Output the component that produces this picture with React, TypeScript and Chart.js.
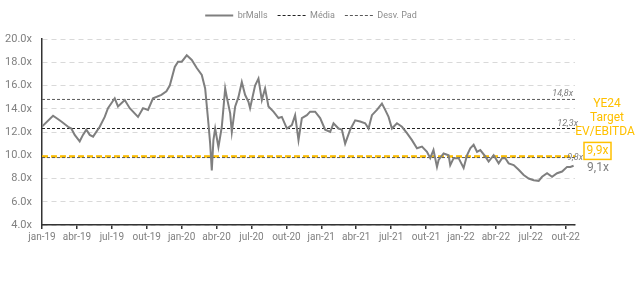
import React, { useEffect, useRef } from "react";
import { Chart, registerables } from "chart.js";

Chart.register(...registerables);

// months since jan-19
const months = [
  0, 0.95, 1.39, 1.66, 2.24, 2.52, 2.81, 3.24, 3.52, 3.81, 4.1, 4.39, 4.96, 5.39, 5.67, 6.25, 6.53, 7.11, 7.54, 8.25, 8.68, 9.11, 9.54,
  10.26, 10.69, 10.98, 11.41, 11.69, 12.01, 12.44, 12.87, 13.3, 13.73, 14.02, 14.3, 14.45, 14.59, 14.73, 14.88,
  15.16, 15.45, 15.74, 15.88, 16.17, 16.31, 16.6, 16.88, 17.17, 17.45, 17.74, 17.88, 18.31, 18.6, 18.89, 19.17,
  19.46, 19.89, 20.32, 20.61, 21.04, 21.47, 21.75, 22.04, 22.33, 22.76, 23.04, 23.47, 23.9, 24.33, 24.76, 25.05,
  25.48, 25.77, 26.05, 26.48, 26.91, 27.34, 27.77, 28.06, 28.35, 28.78, 29.21, 29.49, 29.78, 30.07, 30.5, 30.93,
  31.36, 31.79, 32.22, 32.65, 33.08, 33.36, 33.64, 33.94, 34.08, 34.51, 34.94, 35.08, 35.37, 35.8, 36.23, 36.52,
  36.8, 37.09, 37.38, 37.66, 38.09, 38.38, 38.81, 39.24, 39.53, 39.81, 40.1, 40.53, 40.96, 41.39, 41.82, 42.25,
  42.68, 42.97, 43.4, 43.83, 44.26, 44.69, 45.12, 45.4, 45.68,
];
const multiples = [
  12.46, 13.4, 13.1, 12.9, 12.45, 12.3, 11.75, 11.2, 11.75, 12.2, 11.75, 11.6, 12.45, 13.3, 14.05, 14.9, 14.2, 14.75, 14.05, 13.3, 14.05, 13.9, 14.9,
  15.2, 15.5, 16.0, 17.6, 18.05, 18.05, 18.6, 18.2, 17.5, 16.9, 15.75, 12.75, 11.0, 8.7, 11.3, 12.3,
  10.7, 12.45, 15.75, 15.0, 13.6, 12.0, 14.2, 15.0, 16.3, 15.2, 14.6, 14.05, 16.0, 16.6, 14.75, 15.75,
  14.2, 13.75, 13.2, 13.3, 12.3, 12.6, 13.45, 11.3, 13.2, 13.45, 13.75, 13.75, 13.2, 12.2, 12.0, 12.75,
  12.3, 12.2, 11.0, 12.2, 13.0, 12.9, 12.75, 12.3, 13.45, 13.9, 14.45, 13.9, 13.3, 12.3, 12.75, 12.45,
  11.9, 11.3, 10.6, 10.75, 10.3, 9.75, 10.45, 9.0, 9.6, 10.15, 10.0, 9.15, 9.75, 9.75, 8.9, 10.0,
  10.6, 10.9, 10.3, 10.45, 9.9, 9.45, 10.0, 9.3, 9.75, 9.75, 9.3, 9.15, 8.75, 8.3, 8.0, 7.85,
  7.8, 8.15, 8.45, 8.15, 8.45, 8.6, 9.0, 9.0, 9.1,
];

const avgValue = 12.3;
const stdUpper = 14.8;
const stdLower = 9.8;
const targetValue = 9.9;
const lastValue = 9.1;
const xMax = 45.8;

const tickMonths = [0, 3, 6, 9, 12, 15, 18, 21, 24, 27, 30, 33, 36, 39, 42, 45];
const tickLabels = [
  "jan-19", "abr-19", "jul-19", "out-19", "jan-20", "abr-20", "jul-20", "out-20",
  "jan-21", "abr-21", "jul-21", "out-21", "jan-22", "abr-22", "jul-22", "out-22",
];
const targetTitle = ["YE24", "Target", "EV/EBITDA"];

const FONT = "Roboto, 'Open Sans', sans-serif";
const GOLD = "#FFC000";
const fmt = (v: number) => v.toFixed(1).replace(".", ",") + "x";
const flat = (v: number) => [
  { x: 0, y: v },
  { x: xMax, y: v },
];

const annotationPlugin = {
  id: "annotations",
  beforeInit(chart: any) {
    const legend = chart.legend;
    if (legend) {
      const orig = legend.fit;
      legend.fit = function () {
        orig.call(this);
        this.height = 38;
      };
    }
  },
  afterDraw(chart: any) {
    const { ctx, scales } = chart;
    const y = scales.y;
    const right = chart.chartArea.right;
    ctx.save();
    ctx.font = `italic 9px ${FONT}`;
    ctx.fillStyle = "#7f7f7f";
    ctx.textAlign = "right";
    ctx.textBaseline = "alphabetic";
    ctx.fillText(fmt(stdUpper), right - 2, y.getPixelForValue(stdUpper) - 3);
    ctx.fillText(fmt(avgValue), right + 3, y.getPixelForValue(avgValue) - 3);
    ctx.fillText(fmt(stdLower), right + 8, y.getPixelForValue(stdLower) + 2);

    const cx = 607;
    ctx.font = `12px ${FONT}`;
    ctx.fillStyle = GOLD;
    ctx.textAlign = "center";
    ctx.textBaseline = "middle";
    const ty = y.getPixelForValue(targetValue);
    targetTitle.forEach((t, i) => {
      ctx.fillText(t, cx + (i === 2 ? -2 : 0), ty - 52 + i * 14);
    });
    const bx = 584;
    const by = ty - 14;
    ctx.strokeStyle = GOLD;
    ctx.lineWidth = 1.5;
    ctx.strokeRect(bx, by, 27, 17);
    ctx.fillStyle = GOLD;
    ctx.fillText(fmt(targetValue), bx + 13.5, by + 9);
    ctx.fillStyle = "#7f7f7f";
    ctx.fillText(fmt(lastValue), bx + 14, y.getPixelForValue(lastValue) + 2);
    ctx.restore();
  },
};

export default function App() {
  const ref = useRef<HTMLCanvasElement | null>(null);
  useEffect(() => {
    document.body.style.margin = "0";
    if (!ref.current) return;
    const chart = new Chart(ref.current, {
      type: "line",
      data: {
        datasets: [
          {
            label: "brMalls",
            data: months.map((m, i) => ({ x: m, y: multiples[i] })),
            borderColor: "#7f7f7f",
            backgroundColor: "#7f7f7f",
            borderWidth: 2,
            pointRadius: 0,
            tension: 0,
          },
          {
            label: "Média",
            data: flat(avgValue),
            borderColor: "#222222",
            backgroundColor: "#222222",
            borderWidth: 1.2,
            borderDash: [3, 2],
            pointRadius: 0,
          },
          {
            label: "Desv. Pad",
            data: flat(stdUpper),
            borderColor: "#595959",
            backgroundColor: "#595959",
            borderWidth: 1,
            borderDash: [3, 2],
            pointRadius: 0,
          },
          {
            label: "Desv. Pad inferior",
            data: flat(stdLower),
            borderColor: "#595959",
            borderWidth: 1,
            borderDash: [3, 2],
            pointRadius: 0,
          },
          {
            label: "Target",
            data: flat(targetValue),
            borderColor: GOLD,
            borderWidth: 2.5,
            borderDash: [6, 3],
            pointRadius: 0,
          },
        ],
      },
      options: {
        animation: false,
        responsive: false,
        maintainAspectRatio: false,
        layout: { padding: { left: 0, right: 18, top: 1, bottom: 0 } },
        plugins: {
          tooltip: { enabled: false },
          legend: {
            display: true,
            position: "top",
            labels: {
              usePointStyle: true,
              pointStyle: "line",
              pointStyleWidth: 28,
              boxHeight: 9,
              padding: 10,
              color: "#8c8c8c",
              font: { family: FONT, size: 9 },
              generateLabels: (c: any) =>
                c.data.datasets.slice(0, 3).map((ds: any, i: number) => ({
                  text: ds.label,
                  datasetIndex: i,
                  strokeStyle: ds.borderColor,
                  fillStyle: ds.borderColor,
                  lineWidth: i === 0 ? 2 : 1.2,
                  lineDash: ds.borderDash || [],
                  pointStyle: "line",
                  fontColor: "#8c8c8c",
                  hidden: false,
                })),
            },
          },
        },
        scales: {
          x: {
            type: "linear",
            min: 0,
            max: xMax,
            afterFit: (s: any) => {
              s.height = 59;
            },
            afterBuildTicks: (s: any) => {
              s.ticks = tickMonths.map((v) => ({ value: v }));
            },
            ticks: {
              autoSkip: false,
              maxRotation: 0,
              padding: 2,
              color: "#808080",
              font: { family: FONT, size: 10 },
              callback: (v: any) => {
                const i = tickMonths.indexOf(Number(v));
                return i >= 0 ? tickLabels[i] : "";
              },
            },
            grid: { drawOnChartArea: false, drawTicks: true, tickLength: 4, color: "#333333", lineWidth: 1.5 },
            border: { display: true, color: "#333333", width: 1.5 },
          },
          y: {
            min: 4,
            max: 20,
            afterFit: (s: any) => {
              s.width = 42;
            },
            ticks: {
              stepSize: 2,
              padding: 10,
              color: "#808080",
              font: { family: FONT, size: 11 },
              callback: (v: any) => Number(v).toFixed(1) + "x",
            },
            grid: { drawTicks: false, color: "#d9d9d9", lineWidth: 1 },
            border: { display: true, color: "#333333", width: 1.5, dash: [5, 4] },
          },
          y2: {
            position: "right",
            display: true,
            afterFit: (s: any) => {
              s.width = 47;
            },
            ticks: { display: false },
            grid: { display: false },
            border: { display: false },
          },
        },
      },
      plugins: [annotationPlugin],
    } as any);
    return () => chart.destroy();
  }, []);
  return (
    <div style={{ width: 640, height: 284 }}>
      <canvas ref={ref} width={640} height={284} style={{ display: "block" }} />
    </div>
  );
}
